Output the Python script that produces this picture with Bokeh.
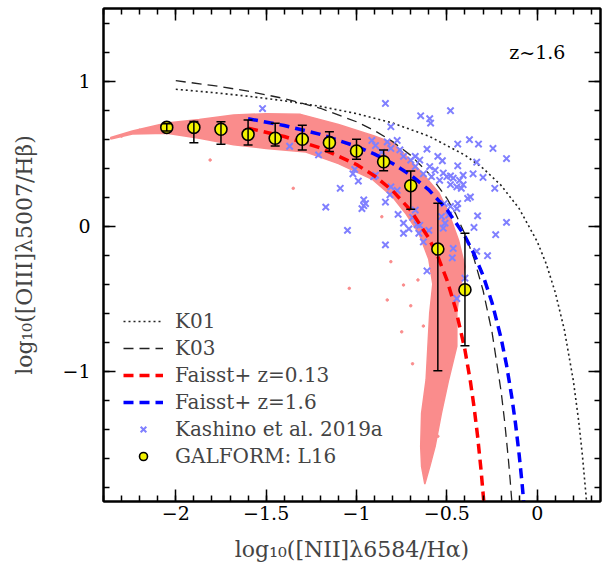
from bokeh.plotting import figure
from bokeh.models import (Range1d, LinearAxis, Whisker, ColumnDataSource, Legend,
                          LegendItem, TeeHead, Label, SingleIntervalTicker)
from bokeh.embed import file_html
from bokeh.resources import INLINE

FONT = "DejaVu Serif"

# ---------------- data ----------------
# Kewley+01 maximum starburst line (dotted)
k01_x = [-2.0, -1.8, -1.6, -1.4, -1.2, -1.0, -0.8, -0.6, -0.4, -0.3, -0.2, -0.1, 0.0,
         0.05, 0.1, 0.15, 0.2, 0.23, 0.25, 0.27, 0.275]
k01_y = [0.943, 0.921, 0.895, 0.864, 0.825, 0.775, 0.710, 0.620, 0.489, 0.398, 0.280,
         0.120, -0.108, -0.262, -0.459, -0.716, -1.069, -1.352, -1.583, -1.86, -1.938]
# Kauffmann+03 line (dashed)
k03_x = [-2.0, -1.8, -1.6, -1.4, -1.2, -1.0, -0.9, -0.8, -0.7, -0.6, -0.5, -0.45, -0.4,
         -0.35, -0.3, -0.25, -0.2, -0.18, -0.16, -0.15, -0.14]
k03_y = [1.002, 0.970, 0.930, 0.879, 0.812, 0.719, 0.658, 0.582, 0.487, 0.362, 0.191,
         0.080, -0.056, -0.225, -0.443, -0.733, -1.14, -1.352, -1.605, -1.75, -1.911]
# Faisst+ z=0.13 (red dashed)
f013_x = [-1.6, -1.4, -1.2, -1.0, -0.9, -0.8, -0.7, -0.6, -0.55, -0.5, -0.45, -0.4,
          -0.37, -0.35, -0.33, -0.31, -0.295]
f013_y = [0.675, 0.617, 0.538, 0.424, 0.345, 0.243, 0.107, -0.084, -0.211, -0.371,
          -0.578, -0.855, -1.071, -1.245, -1.45, -1.695, -1.913]
# Faisst+ z=1.6 (blue dashed)
f16_x = [-1.6, -1.4, -1.2, -1.0, -0.9, -0.8, -0.7, -0.6, -0.5, -0.4, -0.35, -0.3, -0.25,
         -0.2, -0.17, -0.14, -0.12, -0.10, -0.085, -0.073]
f16_y = [0.740, 0.693, 0.632, 0.549, 0.496, 0.431, 0.351, 0.249, 0.114, -0.071, -0.192,
         -0.341, -0.529, -0.774, -0.959, -1.186, -1.366, -1.578, -1.762, -1.929]

# Kashino et al. 2019a (blue crosses)
kash_x = [-1.52, -1.37, -1.21, -1.17, -1.09, -1.05, -1.02, -1.01, -0.99, -0.96, -0.96,
          -0.95, -0.97, -0.915, -0.895, -0.86, -0.895, -0.905, -0.84, -0.83, -0.81,
          -0.81, -0.775, -0.76, -0.74, -0.70, -0.675, -0.84, -0.84, -0.81, -0.775,
          -0.815, -0.77, -0.74, -0.71, -0.74, -0.69, -0.675, -0.65, -0.655, -0.665,
          -0.63, -0.60, -0.61, -0.645, -0.595, -0.59, -0.48, -0.44, -0.375, -0.325,
          -0.245, -0.17, -0.335, -0.44, -0.355, -0.30, -0.235, -0.17, -0.23, -0.33,
          -0.35, -0.385, -0.42, -0.44, -0.445, -0.37, -0.515, -0.48, -0.49, -0.53,
          -0.51, -0.52, -0.465, -0.47, -0.335, -0.275, -0.40, -0.445, -0.61, -0.55,
          -0.525, -0.675, -0.65, -0.595, -0.565, -0.52, -0.48, -0.41, -0.43, -0.465,
          -0.50, -0.48, -0.445, -0.41, -0.585, -0.54, -0.63]
kash_y = [0.81, 0.55, 0.49, 0.13, 0.26, -0.03, 0.36, 0.39, 0.31, 0.18, 0.14,
          0.155, 0.12, 0.59, 0.555, 0.51, 0.35, 0.34, 0.845, 0.58, 0.685,
          0.535, 0.59, 0.525, 0.48, 0.455, 0.41, 0.165, -0.13, 0.27, 0.245,
          0.215, 0.08, 0.02, -0.02, -0.05, 0.06, 0.11, 0.005, -0.05, 0.01,
          -0.11, -0.03, -0.31, 0.76, 0.74, 0.71, 0.795, 0.565, 0.595, 0.565,
          0.535, 0.465, 0.44, 0.415, 0.36, 0.335, 0.26, 0.025, -0.06, 0.07,
          -0.01, 0.19, 0.26, 0.155, 0.12, 0.20, 0.155, 0.135, 0.075, 0.065,
          0.02, -0.015, -0.155, -0.22, -0.175, -0.205, -0.36, -0.50, 0.53, 0.48,
          0.45, 0.48, 0.455, 0.41, 0.385, 0.365, 0.345, 0.35, 0.315, 0.33,
          0.34, 0.285, 0.27, 0.285, 0.34, 0.315, 0.36]

# GALFORM L16 model: outline of the dense cloud of galaxies
cloud_x = [-2.36, -2.24, -2.05, -1.87, -1.68, -1.50, -1.31, -1.10, -0.91, -0.80, -0.73,
           -0.64, -0.545, -0.49, -0.435, -0.40, -0.43, -0.445, -0.445, -0.49, -0.53,
           -0.565, -0.595, -0.622,
           -0.64, -0.645, -0.64, -0.615, -0.605, -0.595, -0.578, -0.60, -0.655, -0.73,
           -0.80, -0.91, -1.10, -1.28, -1.50, -1.68, -1.87, -2.05, -2.24, -2.36]
cloud_y = [0.61, 0.655, 0.71, 0.735, 0.765, 0.775, 0.77, 0.70, 0.625, 0.575, 0.49,
           0.37, 0.23, 0.09, -0.10, -0.28, -0.45, -0.60, -0.83, -1.06, -1.29,
           -1.52, -1.66, -1.78,
           -1.66, -1.52, -1.29, -1.06, -0.83, -0.60, -0.40, -0.23, -0.05, 0.09,
           0.20, 0.32, 0.43, 0.51, 0.535, 0.56, 0.605, 0.64, 0.635, 0.60]
# a few isolated model galaxies outside the dense cloud
dots_x = [-1.81, -1.35, -0.86, -0.81, -1.04, -0.66, -0.74, -0.75, -0.63, -0.83, -2.30,
          -2.20, -0.70, -0.69, -0.55, -0.50, -0.58]
dots_y = [0.455, 0.26, 0.064, -0.246, -0.43, -0.372, -0.407, -0.73, -0.69, -0.51, 0.62,
          0.66, -0.55, -0.95, -1.45, -0.95, -1.2]

# GALFORM L16 medians with error bars
gal_x = [-2.05, -1.9, -1.75, -1.6, -1.45, -1.3, -1.15, -1.0, -0.85, -0.7, -0.55, -0.4]
gal_y = [0.68, 0.68, 0.667, 0.632, 0.605, 0.598, 0.575, 0.517, 0.443, 0.278, -0.159, -0.44]
gal_lo = [0.655, 0.575, 0.563, 0.559, 0.552, 0.524, 0.513, 0.46, 0.381, 0.115, -0.998, -0.826]
gal_hi = [0.705, 0.72, 0.719, 0.731, 0.708, 0.694, 0.65, 0.598, 0.524, 0.379, 0.157, -0.05]

# ---------------- figure ----------------
p = figure(width=610, height=568, x_range=Range1d(-2.4, 0.35), y_range=Range1d(-1.9, 1.5),
           output_backend="svg", toolbar_location=None,
           min_border_left=103, min_border_right=10, min_border_top=8, min_border_bottom=67)
p.xgrid.visible = False
p.ygrid.visible = False
p.outline_line_color = "black"
p.outline_line_width = 2

PINK = "#FA8C8C"
p.patch(cloud_x, cloud_y, fill_color=PINK, line_color=PINK, line_width=1.5)
pink_r = p.scatter(dots_x, dots_y, size=2.5, color=PINK)

k01_r = p.line(k01_x, k01_y, line_color="#222222", line_width=1.6, line_dash="2 3")
k03_r = p.line(k03_x, k03_y, line_color="#222222", line_width=1.3, line_dash="10 6")
kash_r = p.scatter(kash_x, kash_y, marker="x", size=9, line_color="#8080FF", line_width=2)
red_r = p.line(f013_x, f013_y, line_color="#FF0000", line_width=3.5, line_dash="10 6")
blue_r = p.line(f16_x, f16_y, line_color="#0000FF", line_width=3.5, line_dash="10 6")

src = ColumnDataSource(dict(x=gal_x, y=gal_y, lo=gal_lo, hi=gal_hi))
gal_r = p.scatter("x", "y", source=src, size=12, fill_color="#F2F200", line_color="black",
                  line_width=1.6)
wh = Whisker(base="x", lower="lo", upper="hi", source=src, line_width=1.5, line_color="black",
             upper_head=TeeHead(size=9, line_width=1.5, line_color="black"),
             lower_head=TeeHead(size=9, line_width=1.5, line_color="black"))
wh.level = "overlay"
p.add_layout(wh)

# ---------------- axes ----------------
xt = SingleIntervalTicker(interval=0.5, num_minor_ticks=5)
yt = SingleIntervalTicker(interval=1.0, num_minor_ticks=5)


def style(ax):
    ax.major_tick_in = 12
    ax.major_tick_out = 0
    ax.minor_tick_in = 6
    ax.minor_tick_out = 0
    ax.axis_line_width = 2
    ax.major_tick_line_width = 1.5
    ax.minor_tick_line_width = 1.5
    ax.major_label_text_font = FONT
    ax.major_label_text_font_size = "19px"
    ax.major_label_text_color = "black"
    ax.axis_label_text_font = FONT
    ax.axis_label_text_font_size = "22px"
    ax.axis_label_text_font_style = "normal"


xa = p.xaxis[0]
xa.ticker = xt
style(xa)
xa.major_label_overrides = {-2: "\u22122", -1.5: "\u22121.5", -1: "\u22121", -0.5: "\u22120.5", 0: "0"}
xa.axis_label = "log\u2081\u2080([NII]\u03bb6584/H\u03b1)"
xa.major_label_standoff = 4
xa.axis_label_standoff = 14

ya = p.yaxis[0]
ya.ticker = yt
style(ya)
ya.major_label_overrides = {-1: "\u22121", 0: "0", 1: "1"}
ya.axis_label = "log\u2081\u2080([OIII]\u03bb5007/H\u03b2)"
ya.major_label_standoff = 13
ya.axis_label_standoff = 22

top = LinearAxis(ticker=xt)
style(top)
top.major_label_text_font_size = "1px"
top.major_label_text_color = None
top.major_label_standoff = 0
p.add_layout(top, "above")
right = LinearAxis(ticker=yt)
style(right)
right.major_label_text_font_size = "1px"
right.major_label_text_color = None
right.major_label_standoff = 0
p.add_layout(right, "right")

p.add_layout(Label(x=-0.155, y=1.2, text="z~1.6", text_baseline="middle",
                   text_font=FONT, text_font_size="19px", text_color="black"))

legend = Legend(items=[
    LegendItem(label="K01", renderers=[k01_r]),
    LegendItem(label="K03", renderers=[k03_r]),
    LegendItem(label="Faisst+ z=0.13", renderers=[red_r]),
    LegendItem(label="Faisst+ z=1.6", renderers=[blue_r]),
    LegendItem(label="Kashino et al. 2019a", renderers=[kash_r]),
    LegendItem(label="GALFORM: L16", renderers=[gal_r]),
], location=(20, 33), padding=0, margin=0, border_line_alpha=0, background_fill_alpha=0,
    label_text_font=FONT, label_text_font_size="20px", glyph_width=40, glyph_height=20,
    label_height=20, label_standoff=12, spacing=3)
p.add_layout(legend)

open("out.html", "w").write(file_html(p, INLINE))
